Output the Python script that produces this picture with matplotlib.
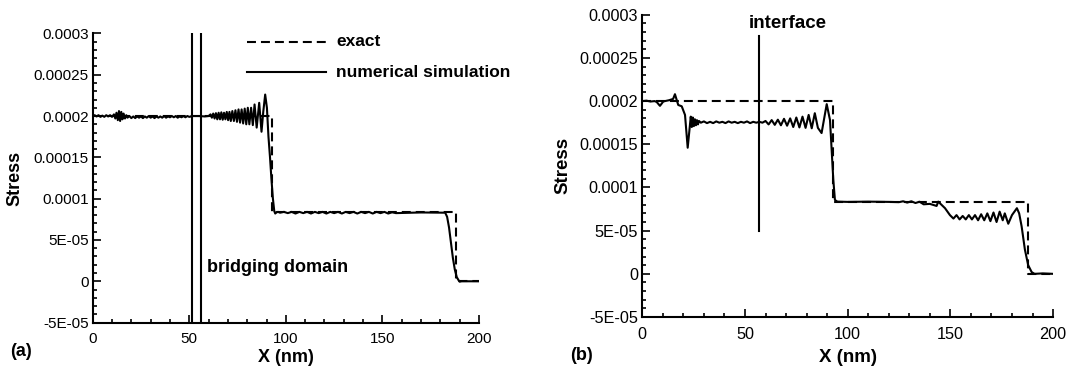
import matplotlib
matplotlib.use("Agg")
import matplotlib.pyplot as plt
from matplotlib.ticker import MultipleLocator, FixedLocator, FixedFormatter

plt.rcParams['font.family'] = ['Liberation Sans', 'DejaVu Sans']

# stress values are given in units of 1e-5
y_ticks = [-5, 0, 5, 10, 15, 20, 25, 30]
y_tick_labels = ["-5E-05", "0", "5E-05", "0.0001", "0.00015", "0.0002", "0.00025", "0.0003"]
x_ticks = [0, 50, 100, 150, 200]

# exact solution (same for both panels)
exact_x = [0, 93, 93, 188, 188, 200]
exact_y = [20, 20, 8.33, 8.33, 0, 0]

# (a) bridging domain simulation
num_a_x = [0, 1, 2, 3, 4, 5, 6, 7, 8, 9, 10, 11, 11.7, 12.3, 13, 13.6, 14.2, 14.8, 15.4, 16,
           16.7, 17.4, 18, 19, 20, 21, 22, 23, 24, 25, 26, 27, 28, 29, 30, 31, 32, 33, 34, 35,
           36, 37, 38, 39, 40, 41, 42, 43, 44, 45, 46, 47, 48, 49, 50, 52, 55, 58, 60, 61,
           61.7, 62.4, 63.1, 63.8, 64.5, 65.2, 65.9, 66.6, 67.3, 68, 68.7, 69.4, 70.1, 70.8,
           71.5, 72.3, 73.1, 73.9, 74.7, 75.5, 76.3, 77.1, 77.9, 78.7, 79.5, 80.3, 81.1, 82,
           82.9, 83.8, 84.9, 86.2, 87.4, 88.3, 89.3, 90.2, 91, 91.8, 92.5, 93.3, 94, 94.5,
           95.2, 96, 97, 99, 101, 103, 105, 107, 109, 111, 113, 115, 117, 119, 121, 123, 125,
           127, 129, 131, 133, 135, 137, 139, 141, 143, 145, 147, 149, 151, 153, 155, 157,
           170, 182.5, 183.5, 184.5, 185.5, 186.5, 187.5, 188.5, 189.5, 190, 191, 195, 200]
num_a_y = [20.0, 20.1, 19.95, 20.1, 19.9, 20.05, 19.9, 20.1, 19.95, 20.1, 19.9, 20.2, 19.7,
           20.4, 19.5, 20.6, 19.4, 20.5, 19.6, 20.3, 19.7, 20.1, 19.8, 20.0, 19.75, 19.95,
           19.75, 19.95, 19.8, 19.95, 19.75, 19.95, 19.8, 20.0, 19.8, 19.95, 19.75, 19.95,
           19.8, 19.95, 19.8, 20.0, 19.8, 19.95, 19.85, 20.0, 19.85, 20.0, 19.8, 19.95, 19.85,
           20.0, 19.85, 20.0, 19.9, 20.0, 20.0, 19.95, 20.0, 20.2, 19.8, 20.3, 19.7, 20.35,
           19.6, 20.4, 19.6, 20.45, 19.55, 20.4, 19.6, 20.5, 19.5, 20.5, 19.4, 20.6, 19.4,
           20.7, 19.3, 20.8, 19.2, 20.8, 19.1, 20.9, 19.0, 21.0, 19.0, 21.0, 18.9, 21.4, 18.6,
           21.6, 18.1, 20.5, 22.6, 21.0, 17.5, 15.0, 12.5, 10.0, 8.5, 8.2, 8.35, 8.4, 8.3,
           8.4, 8.25, 8.4, 8.2, 8.4, 8.25, 8.4, 8.2, 8.4, 8.25, 8.4, 8.2, 8.4, 8.25, 8.4, 8.2,
           8.4, 8.25, 8.4, 8.2, 8.4, 8.25, 8.4, 8.2, 8.4, 8.25, 8.4, 8.2, 8.35, 8.25, 8.33,
           8.3, 7.8, 6.5, 4.6, 2.8, 1.4, 0.5, 0.1, -0.05, 0.0, 0.0, 0.0]

# (b) interface simulation
num_b_x = [0, 2, 4, 6, 7, 8.6, 10.2, 11, 13, 15, 15.9, 17.5, 19.2, 20.8, 22.1, 23.6, 24.1,
           24.6, 25.1, 25.6, 26.1, 26.6, 27.1, 27.6, 28.5, 30, 31.5, 33, 34.5, 36, 37.5, 39,
           40.5, 42, 43.5, 45, 46.5, 48, 49.5, 51, 52.5, 54, 55.5, 57, 58.5, 60, 61.5, 63,
           64.5, 66, 67.5, 69, 70.5, 72, 73.5, 75, 76.5, 78, 79.5, 81, 82.5, 84, 85.5, 87.3,
           89.8, 91.4, 93, 93.8, 95, 100, 110, 120, 125, 127, 129, 131, 133, 135, 137, 140,
           143.3, 144.1, 147.4, 149.8, 151.5, 153, 154.5, 156, 157.5, 159, 160.5, 162, 163.5,
           165, 166.5, 168, 169.5, 171, 172.5, 174, 175.5, 176.5, 178.2, 180, 182.4, 183.5,
           184.7, 186.3, 187.9, 189.6, 191, 195, 200]
num_b_y = [20.0, 20.05, 19.95, 20.0, 19.9, 19.45, 19.95, 20.0, 20.1, 20.25, 20.8, 19.55,
           19.4, 18.4, 14.6, 18.2, 17.0, 18.1, 17.1, 17.9, 17.2, 17.8, 17.3, 17.7, 17.5, 17.65,
           17.45, 17.6, 17.45, 17.65, 17.5, 17.6, 17.45, 17.65, 17.5, 17.6, 17.45, 17.6, 17.5,
           17.65, 17.45, 17.6, 17.5, 17.6, 17.5, 17.7, 17.3, 17.8, 17.25, 17.85, 17.2, 17.95,
           17.15, 18.0, 17.0, 18.1, 16.95, 18.2, 16.9, 18.4, 16.85, 18.6, 16.9, 16.3, 19.65,
           17.8, 10.9, 8.55, 8.36, 8.33, 8.36, 8.33, 8.3, 8.4, 8.25, 8.4, 8.2, 8.35, 8.05, 8.1,
           7.86, 8.36, 7.6, 6.8, 6.4, 6.8, 6.3, 6.7, 6.3, 6.8, 6.3, 6.8, 6.2, 6.9, 6.2, 7.0,
           6.1, 7.1, 6.0, 7.2, 6.2, 7.0, 5.8, 6.8, 7.6, 7.0, 5.5, 2.8, 1.0, 0.2, 0.0, 0.05, 0.0]

bridge_lines = [51.2, 56.1]
interface_x = 56.9
interface_span = [5, 27.5]

fig = plt.figure(figsize=(10.73, 3.72), dpi=100)
ax_a = fig.add_axes([0.0864, 0.1328, 0.360, 0.7774])
ax_b = fig.add_axes([0.5986, 0.1478, 0.3828, 0.8126])

dash = (0, (4.3, 2.4))


def style_axes(ax, tick_size, label_size, ylab_x, xlab_y):
    ax.set_xlim(0, 200)
    ax.set_ylim(-5, 30)
    ax.spines['top'].set_visible(False)
    ax.spines['right'].set_visible(False)
    ax.spines['left'].set_linewidth(1.5)
    ax.spines['bottom'].set_linewidth(1.5)
    ax.xaxis.set_major_locator(FixedLocator(x_ticks))
    ax.xaxis.set_minor_locator(MultipleLocator(10))
    ax.yaxis.set_major_locator(FixedLocator(y_ticks))
    ax.yaxis.set_major_formatter(FixedFormatter(y_tick_labels))
    ax.yaxis.set_minor_locator(MultipleLocator(1))
    ax.tick_params(which='both', direction='in', width=1.2, labelsize=tick_size)
    ax.tick_params(axis='x', which='major', length=6, pad=7)
    ax.tick_params(axis='y', which='major', length=6, pad=3)
    ax.tick_params(which='minor', length=3)
    ax.set_xlabel("X (nm)", fontsize=label_size, fontweight='bold')
    ax.set_ylabel("Stress", fontsize=label_size, fontweight='bold')
    ax.yaxis.set_label_coords(ylab_x, 0.5)
    ax.xaxis.set_label_coords(0.5, xlab_y)


# panel (a)
ax_a.plot(exact_x, exact_y, color='black', lw=1.5, linestyle=dash)
ax_a.plot(num_a_x, num_a_y, color='black', lw=1.5)
for xl in bridge_lines:
    ax_a.axvline(xl, color='black', lw=1.5)
ax_a.text(59.2, 1.7, "bridging domain", fontsize=13, fontweight='bold', va='center')
ax_a.plot([79.7, 120.7], [29, 29], color='black', lw=1.5, linestyle=dash)
ax_a.plot([79.7, 120.7], [25.3, 25.3], color='black', lw=1.5)
ax_a.text(126, 29, "exact", fontsize=12.5, fontweight='bold', va='center')
ax_a.text(126, 25.3, "numerical simulation", fontsize=12.5, fontweight='bold', va='center')
style_axes(ax_a, 11, 13, -0.178, -0.092)

# panel (b)
ax_b.plot(exact_x, exact_y, color='black', lw=1.5, linestyle=dash)
ax_b.plot(num_b_x, num_b_y, color='black', lw=1.5)
ax_b.plot([interface_x, interface_x], interface_span, color='black', lw=1.5)
ax_b.text(51.8, 29, "interface", fontsize=13.5, fontweight='bold', va='center')
style_axes(ax_b, 11.7, 13.5, -0.172, -0.106)

fig.text(10 / 1073, 1 - 352 / 372, "(a)", fontsize=13, fontweight='bold', va='center')
fig.text(570 / 1073, 1 - 356 / 372, "(b)", fontsize=13, fontweight='bold', va='center')

fig.savefig("out.png", dpi=100)
